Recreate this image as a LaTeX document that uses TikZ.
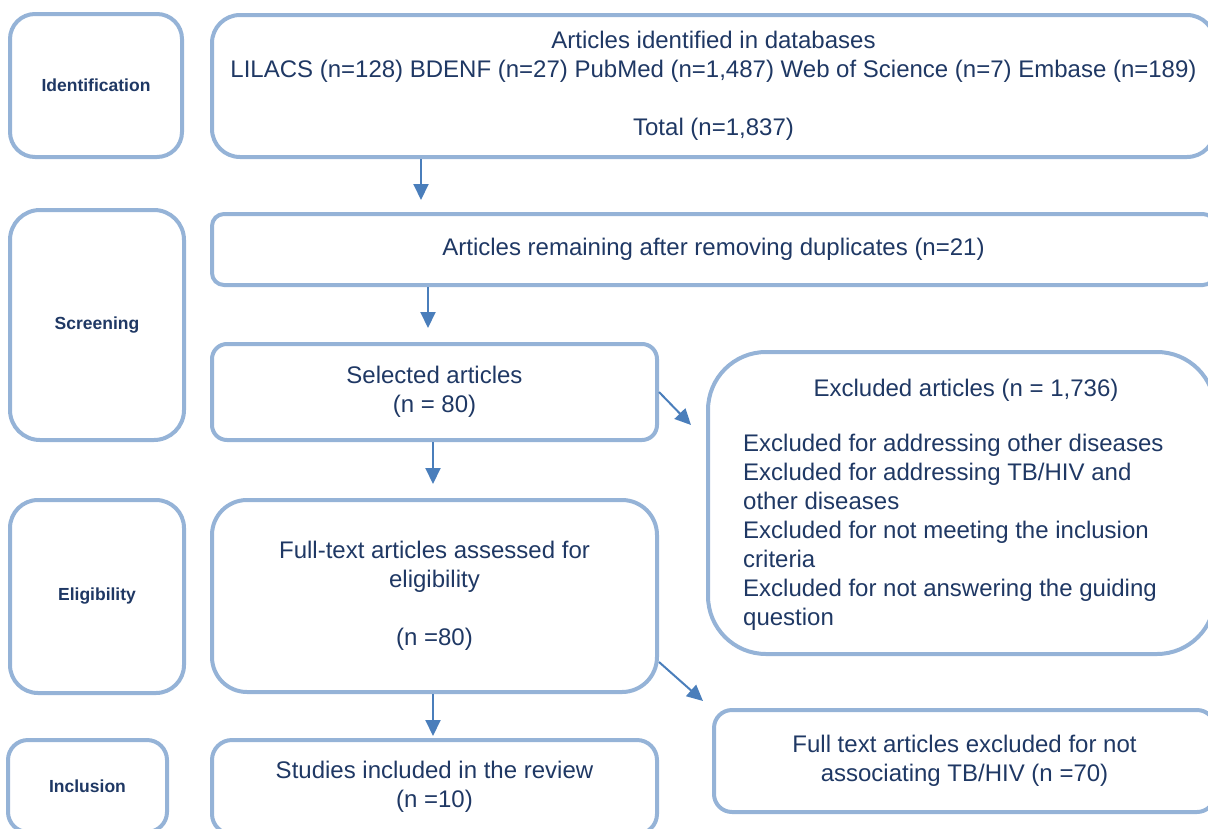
\documentclass[tikz,border=0pt]{standalone}
\usepackage{fontspec}
\setmainfont{Liberation Sans}
\usepackage{tikz}
\usepackage{xcolor}
\usetikzlibrary{arrows.meta}
\definecolor{boxline}{HTML}{95B3D7}
\definecolor{inktext}{HTML}{1F3864}
\definecolor{flowline}{HTML}{4A7EBB}
\tikzstyle{phase} = [rectangle, draw=boxline, line width=4pt, text=inktext, font=\fontsize{17.5}{21}\selectfont\bfseries, align=center, inner sep=0pt]
\tikzstyle{record} = [rectangle, draw=boxline, line width=4pt, text=inktext, font=\fontsize{24}{29}\selectfont, align=center, inner sep=0pt]
\tikzstyle{plain} = [text=inktext, font=\fontsize{24}{29}\selectfont, inner sep=0pt]
\tikzstyle{flow} = [->, draw=flowline, line width=2pt]

\begin{document}
\begin{tikzpicture}[x=1pt,y=-1pt,>={Triangle[length=16pt,width=15pt]}]
  \useasboundingbox (0,0) rectangle (1208,828);
  \clip (0,0) rectangle (1208,828);

  % stage labels on the left
  \node[phase, rounded corners=25pt, minimum width=172pt, minimum height=143pt] (ident) at (96,85.5) {Identification};
  \node[phase, rounded corners=30pt, minimum width=174pt, minimum height=230pt] (screen) at (97,325) {Screening};
  \node[phase, rounded corners=28pt, minimum width=174pt, minimum height=193pt] (elig) at (97,596.5) {Eligibility};
  \node[phase, rounded corners=20pt, minimum width=159pt, minimum height=92pt] (incl) at (87.5,786) {Inclusion};

  % flow boxes
  \node[record, rounded corners=28pt, minimum width=1003pt, minimum height=142pt] (idbox) at (713.5,86)
    {Articles identified in databases\\
     LILACS (n=128) BDENF (n=27) PubMed (n=1,487) Web of Science (n=7) Embase (n=189)\\[29pt]
     Total (n=1,837)};
  \node[record, rounded corners=12pt, minimum width=1003pt, minimum height=71pt] (dup) at (713.5,249.5)
    {Articles remaining after removing duplicates (n=21)};
  \node[record, rounded corners=15pt, minimum width=445pt, minimum height=96pt] (sel) at (434.5,392)
    {Selected articles\\(n = 80)};
  \node[record, rounded corners=58pt, minimum width=507pt, minimum height=302pt] (excl) at (961.5,503) {};
  \node[plain] (exhead) at (966,390) {Excluded articles (n = 1,736)};
  \node[plain, anchor=west, align=left] (exlist) at (743,532)
    {Excluded for addressing other diseases\\
     Excluded for addressing TB/HIV and\\
     other diseases\\
     Excluded for not meeting the inclusion\\
     criteria\\
     Excluded for not answering the guiding\\
     question};
  \node[record, rounded corners=35pt, minimum width=445pt, minimum height=192pt] (full) at (434.5,596)
    {Full-text articles assessed for\\eligibility\\[29pt](n =80)};
  \node[record, rounded corners=18pt, minimum width=501pt, minimum height=102pt] (fexc) at (964.5,761)
    {Full text articles excluded for not\\associating TB/HIV (n =70)};
  \node[record, rounded corners=20pt, minimum width=445pt, minimum height=94pt] (stud) at (434.5,787)
    {Studies included in the review\\(n =10)};

  % arrows
  \coordinate (a1) at (421,200);
  \coordinate (a2) at (428,328);
  \coordinate (a3) at (433,484);
  \coordinate (a4) at (433,736);
  \coordinate (d1) at (691,425);
  \coordinate (d2) at (703,701);
  \draw[flow] (idbox.south -| a1) -- (a1);
  \draw[flow] (dup.south -| a2) -- (a2);
  \draw[flow] (sel.south -| a3) -- (a3);
  \draw[flow] (full.south -| a4) -- (a4);
  \draw[flow] (sel.east) -- (d1);
  \draw[flow] ([yshift=-66pt]full.east) -- (d2);
\end{tikzpicture}
\end{document}
